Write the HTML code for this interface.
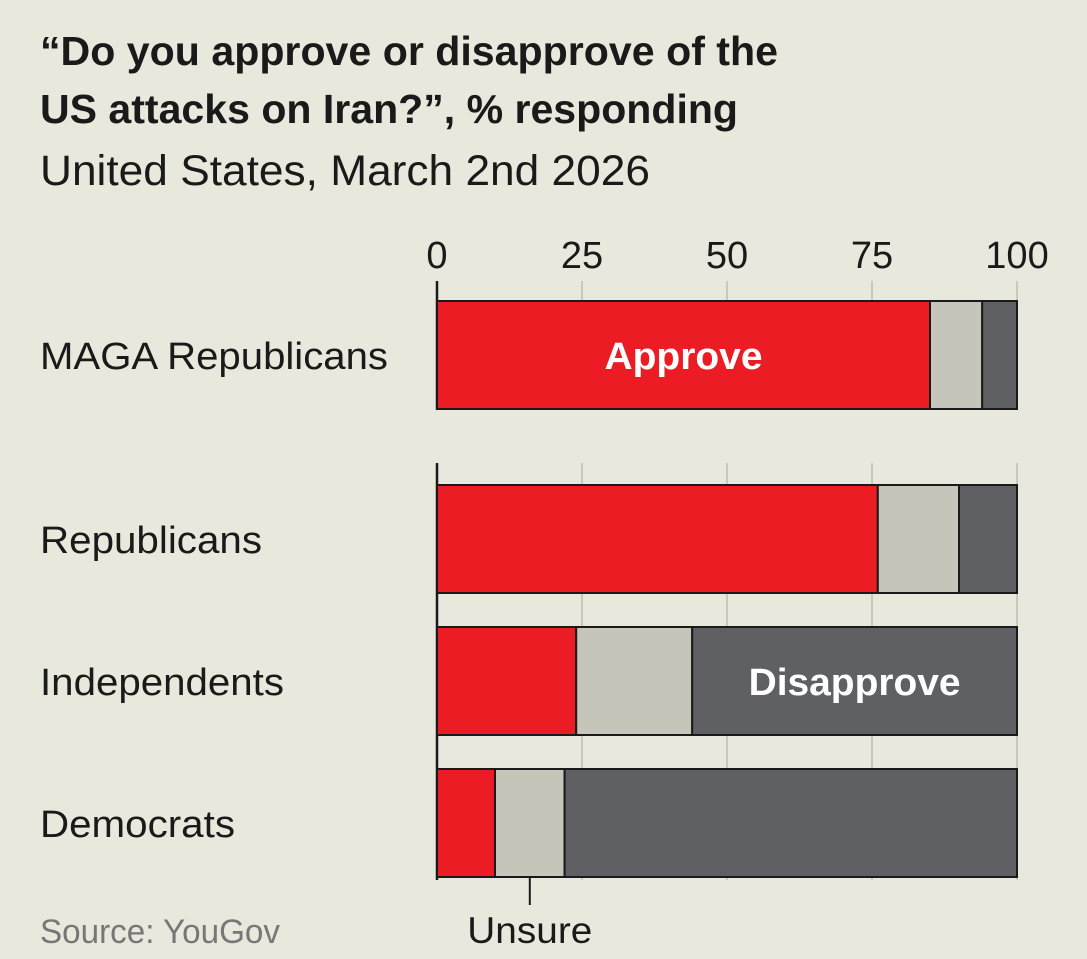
<!DOCTYPE html>
<html><head><meta charset="utf-8"><style>
html,body{margin:0;padding:0;background:#e9e8dd;}
svg{display:block;font-family:"Liberation Sans",sans-serif;}
</style></head><body>
<svg id="chart" width="1087" height="959" viewBox="0 0 1087 959">
<rect width="1087" height="959" fill="#e9e8dd"/>
<text x="40" y="65" font-size="41" font-weight="bold" fill="#1a1a1a" textLength="738" lengthAdjust="spacingAndGlyphs">“Do you approve or disapprove of the</text>
<text x="40" y="123" font-size="41" font-weight="bold" fill="#1a1a1a" textLength="698" lengthAdjust="spacingAndGlyphs">US attacks on Iran?”, % responding</text>
<text x="40" y="185" font-size="43" fill="#1a1a1a" textLength="610" lengthAdjust="spacingAndGlyphs">United States, March 2nd 2026</text>
<g id="grid"></g>
<g id="bars"></g>
<g id="labels"></g>
<text x="40" y="943" font-size="34" fill="#777" textLength="240" lengthAdjust="spacingAndGlyphs">Source: YouGov</text>
</svg>
<script>
const categories = ["MAGA Republicans","Republicans","Independents","Democrats"];
const approve = [85, 76, 24, 10];
const unsure = [9, 14, 20, 12];
const disapprove = [6, 10, 56, 78];
const ticks = [0, 25, 50, 75, 100];

const NS = "http://www.w3.org/2000/svg";
const x0 = 437, x1 = 1017;
const xs = v => x0 + (x1 - x0) * v / 100;
const barTops = [301, 485, 627, 769];
const barH = 108;
const labelWidths = [348, 222, 244, 195];
function el(tag, attrs, parent, text){
  const e = document.createElementNS(NS, tag);
  for (const k in attrs) e.setAttribute(k, attrs[k]);
  if (text !== undefined) e.textContent = text;
  parent.appendChild(e);
  return e;
}
const grid = document.getElementById("grid");
const bars = document.getElementById("bars");
const labels = document.getElementById("labels");
ticks.forEach(t => {
  const lbl = el("text", {x: xs(t), y: 268, "font-size": 38, "text-anchor": "middle", fill: "#1a1a1a"}, grid, String(t));
  
  
  [[281, 410], [463, 880]].forEach(seg => {
    const l = el("line", {x1: xs(t), x2: xs(t), y1: seg[0], y2: seg[1], stroke: t === 0 ? "#1a1a1a" : "#c9c8bd", "stroke-width": t === 0 ? 2.5 : 2}, grid);
    
    
  });
});
const colors = ["#ec1c24", "#c5c5ba", "#5f6063"];
const names = ["approve", "unsure", "disapprove"];
categories.forEach((c, i) => {
  const y = barTops[i];
  const vals = [approve[i], unsure[i], disapprove[i]];
  let acc = 0;
  vals.forEach((v, j) => {
    const r = el("rect", {x: xs(acc), y: y, width: xs(acc + v) - xs(acc), height: barH, fill: colors[j], stroke: "#1a1a1a", "stroke-width": 2}, bars);
    
    
    acc += v;
  });
  const t = el("text", {x: 40, y: y + barH / 2 + 14, "font-size": 38, fill: "#1a1a1a", textLength: labelWidths[i], lengthAdjust: "spacingAndGlyphs"}, labels, c);
  
  
});
const a = el("text", {x: (xs(0) + xs(approve[0])) / 2, y: barTops[0] + barH / 2 + 14, "font-size": 38, "font-weight": "bold", fill: "#fff", "text-anchor": "middle", textLength: 158, lengthAdjust: "spacingAndGlyphs"}, labels, "Approve");


const ds = xs(approve[2] + unsure[2]);
const d = el("text", {x: (ds + xs(100)) / 2, y: barTops[2] + barH / 2 + 14, "font-size": 38, "font-weight": "bold", fill: "#fff", "text-anchor": "middle", textLength: 212, lengthAdjust: "spacingAndGlyphs"}, labels, "Disapprove");


const ux = xs(approve[3] + unsure[3] / 2);
const ul = el("line", {x1: ux, x2: ux, y1: barTops[3] + barH, y2: 905, stroke: "#1a1a1a", "stroke-width": 2}, labels);


const ut = el("text", {x: ux, y: 943, "font-size": 37, fill: "#1a1a1a", "text-anchor": "middle", textLength: 125, lengthAdjust: "spacingAndGlyphs"}, labels, "Unsure");


</script>
</body></html>
